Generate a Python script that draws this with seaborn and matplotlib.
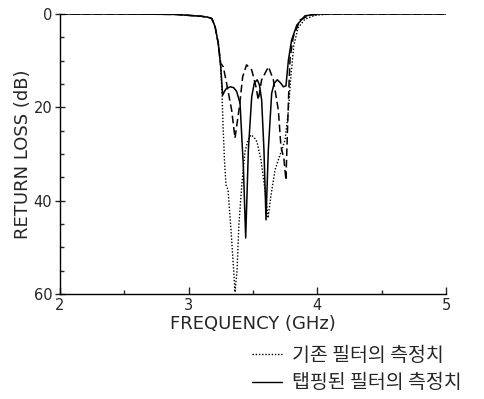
import pandas as pd
import matplotlib.pyplot as plt
import seaborn as sns
from matplotlib.lines import Line2D
from matplotlib.ticker import MultipleLocator

# tapped filter (solid)
freq_tapped = [2.0, 2.5, 2.9, 3.0, 3.1, 3.15, 3.18, 3.205, 3.23, 3.249, 3.264,
               3.28, 3.295, 3.326, 3.35, 3.373, 3.399, 3.425, 3.443, 3.464, 3.49,
               3.51, 3.533, 3.55, 3.567, 3.585, 3.601, 3.619, 3.645, 3.665, 3.689,
               3.715, 3.736, 3.756, 3.775, 3.8, 3.84, 3.904, 4.0, 4.3, 5.0]
loss_tapped = [0.0, 0.0, 0.1, 0.3, 0.5, 0.7, 1.0, 2.7, 6.3, 11.3, 17.4,
               16.5, 15.9, 15.6, 15.8, 16.6, 19.1, 32.7, 48.0, 29.1, 17.7,
               14.8, 14.1, 15.2, 18.4, 29.1, 44.1, 29.1, 17.0, 14.8, 14.1,
               14.8, 15.6, 15.4, 9.9, 5.6, 2.4, 0.4, 0.0, 0.0, 0.0]

# third trace (dashed, not in legend)
freq_dashed = [2.0, 2.5, 2.9, 3.0, 3.1, 3.15, 3.18, 3.205, 3.23, 3.249, 3.269,
               3.295, 3.334, 3.36, 3.394, 3.42, 3.45, 3.49, 3.523, 3.541, 3.567,
               3.62, 3.658, 3.697, 3.717, 3.74, 3.756, 3.767, 3.78, 3.788, 3.813,
               3.865, 3.943, 4.05, 4.3, 5.0]
loss_dashed = [0.0, 0.0, 0.1, 0.3, 0.5, 0.7, 1.0, 2.7, 6.3, 10.6, 11.3,
               14.9, 20.6, 26.6, 19.9, 13.4, 10.9, 12.0, 15.6, 18.4, 14.1,
               11.3, 14.1, 20.6, 28.4, 31.0, 35.6, 25.6, 14.9, 9.5, 4.9,
               1.3, 0.2, 0.0, 0.0, 0.0]

# existing filter (dotted)
freq_existing = [2.0, 2.5, 2.9, 3.0, 3.1, 3.15, 3.18, 3.205, 3.23, 3.249, 3.259,
                 3.267, 3.278, 3.29, 3.306, 3.329, 3.352, 3.36, 3.376, 3.39,
                 3.414, 3.437, 3.461, 3.484, 3.508, 3.531, 3.562, 3.593, 3.617,
                 3.64, 3.671, 3.71, 3.749, 3.772, 3.795, 3.818, 3.85, 3.904,
                 3.98, 4.1, 4.3, 5.0]
loss_existing = [0.0, 0.0, 0.1, 0.3, 0.5, 0.7, 1.0, 2.7, 6.3, 11.3, 17.0,
                 23.8, 31.3, 36.6, 37.7, 46.3, 55.9, 59.6, 54.9, 45.2,
                 36.2, 29.6, 27.0, 25.9, 26.4, 27.4, 31.3, 37.7, 43.7,
                 38.8, 33.4, 30.2, 27.0, 21.6, 13.1, 6.6, 3.0, 1.1,
                 0.3, 0.0, 0.0, 0.0]

legend_labels = ['기존 필터의 측정치', '탭핑된 필터의 측정치']

sns.set_style('ticks')
plt.rcParams['font.family'] = ['DejaVu Sans']

fig = plt.figure(figsize=(4.84, 3.99), dpi=100)
ax = fig.add_axes([0.124, 0.263, 0.7975, 0.702])

df_t = pd.DataFrame({'f': freq_tapped, 'rl': loss_tapped})
df_d = pd.DataFrame({'f': freq_dashed, 'rl': loss_dashed})
df_e = pd.DataFrame({'f': freq_existing, 'rl': loss_existing})

sns.lineplot(data=df_e, x='f', y='rl', ax=ax, color='black', lw=1.0,
             linestyle=(0, (1, 1.3)), estimator=None)
sns.lineplot(data=df_d, x='f', y='rl', ax=ax, color='black', lw=1.1,
             linestyle=(0, (5, 2.5)), estimator=None)
sns.lineplot(data=df_t, x='f', y='rl', ax=ax, color='black', lw=1.1,
             linestyle='-', estimator=None)

ax.set_xlim(2, 5)
ax.set_ylim(60, 0)
ax.xaxis.set_major_locator(MultipleLocator(1))
ax.xaxis.set_minor_locator(MultipleLocator(0.5))
ax.yaxis.set_major_locator(MultipleLocator(20))
ax.yaxis.set_minor_locator(MultipleLocator(5))
ax.tick_params(axis='y', which='major', direction='inout', length=7, width=1, labelsize=10.5, pad=2)
ax.tick_params(axis='y', which='minor', direction='in', length=3, width=1)
ax.tick_params(axis='x', which='major', direction='in', length=5, width=1, labelsize=10.5, pad=3)
ax.tick_params(axis='x', which='minor', direction='in', length=3, width=1)
sns.despine(ax=ax)
for s in ['left', 'bottom']:
    ax.spines[s].set_linewidth(1)
    ax.spines[s].set_color('black')

ax.set_xlabel('FREQUENCY (GHz)', fontsize=13, labelpad=1)
ax.set_ylabel('RETURN LOSS (dB)', fontsize=13, labelpad=1)

handles = [Line2D([], [], color='black', lw=1, linestyle=(0, (1, 1.3))),
           Line2D([], [], color='black', lw=1, linestyle='-')]
leg = fig.legend(handles, legend_labels, loc='center left',
                 bbox_to_anchor=(252 / 484, 1 - 369 / 399), frameon=False,
                 handlelength=1.55, handletextpad=0.5, labelspacing=0.35,
                 borderpad=0, borderaxespad=0,
                 prop={'family': ['Noto Sans CJK KR', 'DejaVu Sans'], 'size': 14, 'weight': 'light'})

fig.savefig('out.png', dpi=100)
